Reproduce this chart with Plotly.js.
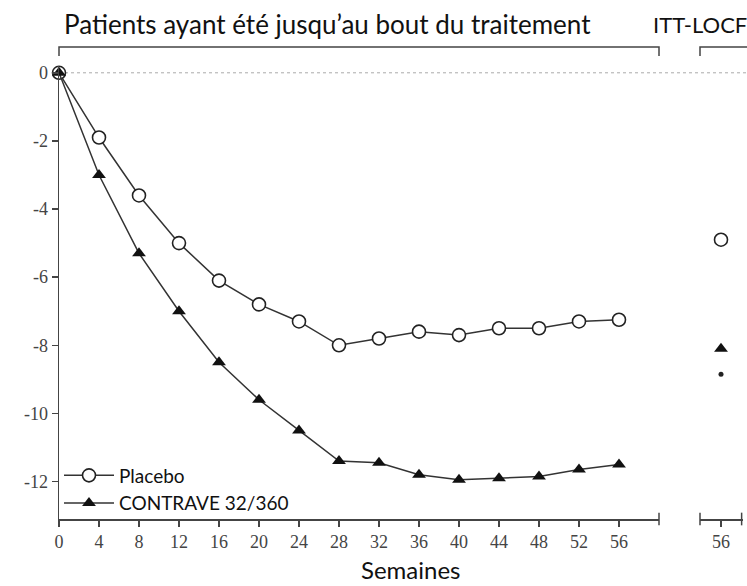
<!DOCTYPE html>
<html><head><meta charset="utf-8">
<script src="https://cdn.plot.ly/plotly-3.0.1.min.js"></script>
<style>html,body{margin:0;padding:0;background:#fff;}#c{width:747px;height:586px;}</style>
</head><body><div id="c"></div>
<script>
const weeks = [0,4,8,12,16,20,24,28,32,36,40,44,48,52,56];
const placebo = [0,-1.9,-3.6,-5.0,-6.1,-6.8,-7.3,-8.0,-7.8,-7.6,-7.7,-7.5,-7.5,-7.3,-7.25];
const contrave = [0,-3.0,-5.3,-7.0,-8.5,-9.6,-10.5,-11.4,-11.45,-11.8,-11.95,-11.9,-11.85,-11.65,-11.5];
const ittWeek = [56];
const ittPlacebo = [-4.9];
const ittContrave = [-8.1];
const ittSignif = [-8.85];
const yTicks = [0,-2,-4,-6,-8,-10,-12];
const yTickText = ["0","-2","-4","-6","-8","-10","-12"];
const xTicks = [0,4,8,12,16,20,24,28,32,36,40,44,48,52,56];
const seriesNames = ["Placebo","CONTRAVE 32/360"];
const topLabels = ["Patients ayant été jusqu\u2019au bout du traitement","ITT-LOCF"];
const xTitle = "Semaines";

const lineCol = '#333';
const traces = [
  {x: weeks, y: placebo, name: seriesNames[0], mode:'lines+markers', cliponaxis:false,
   line:{color:lineCol, width:1.5},
   marker:{symbol:'circle', size:13, color:'#fff', line:{color:'#222', width:1.6}}},
  {x: weeks, y: contrave, name: seriesNames[1], mode:'lines+markers', cliponaxis:false,
   line:{color:lineCol, width:1.5},
   marker:{symbol:'triangle-up', size:12, color:'#111', line:{color:'#111', width:0}}},
  {x: ittWeek, y: ittPlacebo, xaxis:'x2', yaxis:'y', mode:'markers', showlegend:false, cliponaxis:false,
   marker:{symbol:'circle', size:13, color:'#fff', line:{color:'#222', width:1.6}}},
  {x: ittWeek, y: ittContrave, xaxis:'x2', yaxis:'y', mode:'markers', showlegend:false, cliponaxis:false,
   marker:{symbol:'triangle-up', size:12, color:'#111'}},
  {x: ittWeek, y: ittSignif, xaxis:'x2', yaxis:'y', mode:'markers', showlegend:false, cliponaxis:false,
   marker:{symbol:'circle', size:5, color:'#222'}}
];

const sansFont = 'Lato, "Open Sans", sans-serif';
const tickFont = {family:'"Liberation Serif", "DejaVu Serif", serif', size:18, color:'#444'};
const d1 = 600/684, d2s = (700-59)/684;
const layout = {
  width:747, height:586,
  margin:{l:59, r:4, t:66, b:67},
  paper_bgcolor:'#fff', plot_bgcolor:'#fff',
  showlegend:true,
  legend:{x:0.0, y:0.138, xanchor:'left', yanchor:'top', bgcolor:'rgba(0,0,0,0)',
          font:{family:sansFont, size:19, color:'#111'},
          tracegroupgap:0, itemwidth:50},
  xaxis:{domain:[0, d1], range:[0,60], tickvals:xTicks, ticks:'outside', ticklen:6, tickwidth:1.5, tickcolor:'#444',
         showline:true, linecolor:'#444', linewidth:1.5, showgrid:false, zeroline:false, tickfont:tickFont},
  xaxis2:{domain:[d2s, 1], range:[53.9,58.2], tickvals:[56], ticks:'outside', ticklen:6, tickwidth:1.5, tickcolor:'#444',
         showline:true, linecolor:'#444', linewidth:1.5, showgrid:false, zeroline:false, tickfont:tickFont, anchor:'y'},
  yaxis:{range:[-13.1,0.2], tickvals:yTicks, ticktext:yTickText, ticks:'outside', ticklen:6, tickwidth:1.5, tickcolor:'#444',
         showline:true, linecolor:'#444', linewidth:1.5, showgrid:false, zeroline:false, tickfont:tickFont},
  shapes:[
    {type:'line', xref:'paper', yref:'y', x0:0, x1:1.01, y0:0, y1:0, line:{color:'#aaa', width:1, dash:'dot'}, layer:'below'},
    {type:'path', xref:'paper', yref:'paper', path:'M 0 1.022 L 0 1.042 L '+d1+' 1.042 L '+d1+' 1.022', line:{color:'#444', width:1.5}},
    {type:'path', xref:'paper', yref:'paper', path:'M '+d2s+' 1.022 L '+d2s+' 1.042 L 1.02 1.042', line:{color:'#444', width:1.5}},
    {type:'line', xref:'paper', yref:'paper', x0:d1, x1:d1, y0:-0.014, y1:0.014, line:{color:'#444', width:1.5}},
    {type:'line', xref:'paper', yref:'paper', x0:d2s, x1:d2s, y0:-0.014, y1:0.014, line:{color:'#444', width:1.5}},
    {type:'line', xref:'paper', yref:'paper', x0:0.998, x1:0.998, y0:-0.014, y1:0.014, line:{color:'#444', width:1.5}}
  ],
  annotations:[
    {text:topLabels[0], xref:'paper', yref:'paper', x:(62-59)/684, y:(519-24)/453, xanchor:'left', yanchor:'middle', showarrow:false,
     font:{family:sansFont, size:26, color:'#111'}},
    {text:topLabels[1], xref:'paper', yref:'paper', x:(651-59)/684, y:(519-25)/453, xanchor:'left', yanchor:'middle', showarrow:false,
     font:{family:sansFont, size:22, color:'#111'}},
    {text:xTitle, xref:'paper', yref:'paper', x:(411-59)/684, y:(519-569)/453, xanchor:'center', yanchor:'middle', showarrow:false,
     font:{family:sansFont, size:24, color:'#111'}}
  ]
};
Plotly.newPlot('c', traces, layout, {staticPlot:true, displayModeBar:false});
</script></body></html>
